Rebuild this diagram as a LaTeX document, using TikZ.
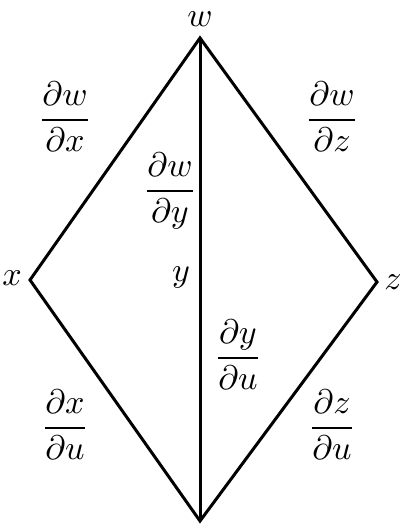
\documentclass[tikz,border=0pt]{standalone}
\usepackage{amsmath,amssymb}
\usepackage{tikz}
\usetikzlibrary{positioning}
\newcommand{\pd}[2]{\dfrac{\partial #1}{\partial #2}}

\begin{document}
\begin{tikzpicture}[x=1pt,y=1pt,
  edge/.style={line width=3pt,line join=miter},
  lbl/.style={inner sep=0pt,scale=3.4}]
\useasboundingbox (0,0) rectangle (410,529);
% vertices of the tree
\coordinate (W) at (200,491);
\coordinate (X) at (30,249);
\coordinate (Z) at (377,247);
\coordinate (U) at (200,8);
% edges
\draw[edge] (W) -- (X) -- (U) -- (Z) -- cycle;
\draw[edge] (W) -- (U);
% variable names
\node[lbl] (w) at (200,510) {$w$};
\node[lbl] (x) at (12,251) {$x$};
\node[lbl] (y) at (181,252) {$y$};
\node[lbl] (z) at (393,247) {$z$};
% partial derivatives along the edges
\node[lbl] (dwdx) at (65,412) {$\pd{w}{x}$};
\node[lbl] (dwdy) at (170,338) {$\pd{w}{y}$};
\node[lbl] (dwdz) at (332,412) {$\pd{w}{z}$};
\node[lbl] (dydu) at (238,174) {$\pd{y}{u}$};
\node[lbl] (dxdu) at (65,104) {$\pd{x}{u}$};
\node[lbl] (dzdu) at (332,104) {$\pd{z}{u}$};
\end{tikzpicture}
\end{document}
